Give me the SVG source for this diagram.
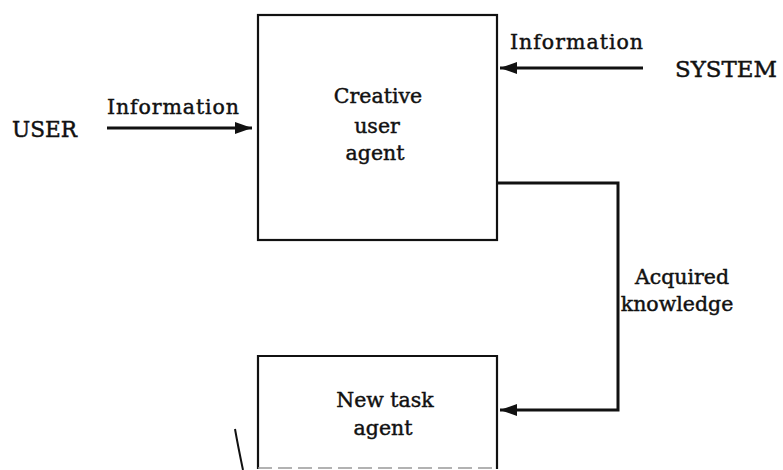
<svg xmlns="http://www.w3.org/2000/svg" width="783" height="470" viewBox="0 0 783 470">
  <style>
    .box { fill: none; stroke: #111; stroke-width: 2.2; }
    .edge { fill: none; stroke: #111; stroke-width: 3; stroke-linejoin: miter; }
    .lbl { font-family: "DejaVu Serif", "Liberation Serif", serif; font-size: 20.5px; fill: #111; stroke: #111; stroke-width: 0.45; }
    .cap { font-size: 22px; }
    .mid { text-anchor: middle; }
  </style>
  <defs>
    <marker id="arrow" markerUnits="userSpaceOnUse" markerWidth="20" markerHeight="14" refX="17" refY="6.5" orient="auto">
      <polygon points="0,0.5 17,6.5 0,12.5" fill="#111"/>
    </marker>
  </defs>

  <rect width="783" height="470" fill="#fff"/>

  <!-- source and sink labels -->
  <g id="user">
    <text class="lbl cap" x="12" y="137" textLength="65" lengthAdjust="spacingAndGlyphs">USER</text>
  </g>
  <g id="system">
    <text class="lbl cap" x="675" y="77" textLength="102" lengthAdjust="spacingAndGlyphs">SYSTEM</text>
  </g>

  <!-- agents -->
  <g id="creative-user-agent">
    <rect class="box" x="258" y="15" width="239" height="225"/>
    <text class="lbl mid" x="378" y="103">Creative</text>
    <text class="lbl mid" x="377" y="133">user</text>
    <text class="lbl mid" x="375" y="160">agent</text>
  </g>
  <g id="new-task-agent">
    <path class="box" d="M258,469 V356 H497 V469"/>
    <line x1="258" y1="468" x2="497" y2="468" stroke="#999" stroke-width="1.5" stroke-dasharray="14,6"/>
    <text class="lbl mid" x="385" y="407">New task</text>
    <text class="lbl mid" x="383" y="435">agent</text>
  </g>

  <!-- connectors -->
  <g id="connectors">
    <line class="edge" x1="107" y1="128" x2="252" y2="128" marker-end="url(#arrow)"/>
    <text class="lbl" x="107" y="114" textLength="132" lengthAdjust="spacing">Information</text>

    <line class="edge" x1="643" y1="68" x2="500" y2="68" marker-end="url(#arrow)"/>
    <text class="lbl" x="510" y="49" textLength="133" lengthAdjust="spacing">Information</text>

    <path class="edge" d="M497,183 H618 V410 H500" marker-end="url(#arrow)"/>
    <text class="lbl mid" x="682" y="284">Acquired</text>
    <text class="lbl mid" x="677" y="311">knowledge</text>
  </g>

  <!-- pen stroke near the lower box -->
  <path d="M235,429 Q238,446 243,470" fill="none" stroke="#111" stroke-width="2"/>
</svg>
